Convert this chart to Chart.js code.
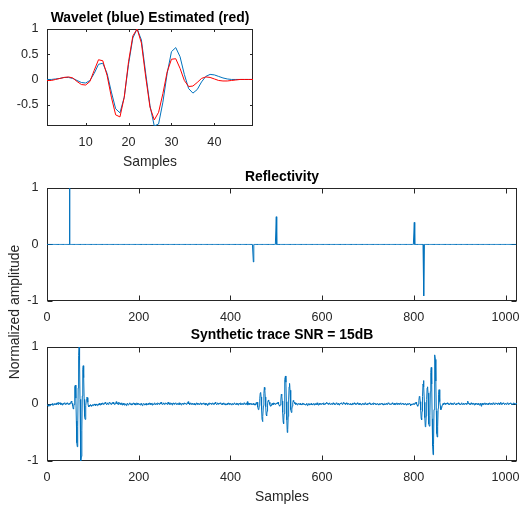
<!DOCTYPE html>
<html>
<head>
<meta charset="utf-8">
<script src="https://cdn.jsdelivr.net/npm/chart.js@4/dist/chart.umd.min.js"></script>
<style>
html,body{margin:0;padding:0;background:#fff;}
#wrap{position:relative;width:531px;height:506px;overflow:hidden;background:#fff;}
#wrap canvas{position:absolute;left:0;top:0;}
#ylab{position:absolute;left:-86px;top:302px;width:200px;height:20px;line-height:20px;text-align:center;
  transform:rotate(-90deg);font-family:'Liberation Sans',Arial,Helvetica,sans-serif;font-size:13.9px;color:#262626;white-space:nowrap;}
</style>
</head>
<body>
<div id="wrap">
  <canvas id="c1" width="531" height="506"></canvas>
  <canvas id="c2" width="531" height="506"></canvas>
  <canvas id="c3" width="531" height="506"></canvas>
  <div id="ylab">Normalized amplitude</div>
</div>
<script>
// ---------------- DATA ----------------
// Wavelet plot: samples 1..49
const waveletTrue = [0,0,0.01,0.02,0.04,0.04,0.02,-0.02,-0.06,-0.07,
  -0.02,0.12,0.30,0.32,0.12,-0.25,-0.58,-0.66,-0.35,0.30,
  0.82,1.0,0.78,0.12,-0.52,-0.92,-0.88,-0.45,0.12,0.55,
  0.63,0.45,0.10,-0.18,-0.27,-0.20,-0.05,0.06,0.10,0.09,
  0.06,0.03,0.01,0,0,0,0,0,0];
const waveletEst = [-0.02,-0.02,0,0.02,0.04,0.05,0.03,-0.04,-0.10,-0.11,
  -0.04,0.18,0.39,0.37,0.08,-0.35,-0.70,-0.74,-0.35,0.35,
  0.86,1.0,0.72,0.05,-0.55,-0.80,-0.65,-0.28,0.15,0.40,
  0.41,0.22,-0.02,-0.14,-0.13,-0.06,0.02,0.05,0.04,0.01,
  -0.02,-0.03,-0.03,-0.02,-0.01,0,0,0,0];

// Reflectivity spikes (sample index, amplitude); all other samples are 0
const reflPos = [49, 450, 500, 801, 822];
const reflAmp = [1.0, -0.31, 0.49, 0.39, -0.91];
const nSamples = 1025; // samples 0..1024

// Synthetic trace, in hundredths, samples 0..1024
const traceCenti = [
-2,-3,-1,-2,-4,-2,-1,-3,-2,0,-1,-2,1,-1,-2,0,-1,1,-1,0,
1,-1,2,0,-1,1,3,1,0,2,-1,1,0,-2,0,1,-1,0,2,1,
0,-1,1,0,2,1,-1,0,1,-1,0,2,1,5,3,1,-3,-8,-9,-1,
13,31,33,10,-30,-68,-75,-40,28,85,100,76,8,-60,-100,-92,-46,14,60,67,
46,8,-22,-27,-17,-3,8,12,11,3,-3,-5,-2,-4,-3,-1,-3,-2,-4,-2,
-1,-3,-2,0,-2,-1,-3,0,-1,-2,-3,-1,0,-2,1,-1,-2,0,1,-1,
0,2,1,-1,1,0,2,3,1,0,-1,1,2,0,-1,1,3,2,0,1,
-1,0,2,1,3,1,0,-1,1,0,2,4,1,0,2,-1,1,3,0,2,
1,-1,0,2,-2,0,1,-1,-2,0,1,-1,0,-3,-1,1,0,-2,-1,0,
2,0,-1,1,0,-2,-1,1,0,2,1,-1,0,1,-2,0,2,1,-1,0,
1,-1,0,-2,-1,1,0,-1,-3,-1,0,1,-1,-2,0,-1,1,0,-2,-1,
0,1,-1,0,2,1,-1,0,1,-2,0,1,0,-1,1,2,0,-1,0,1,
-1,0,2,1,0,-1,1,2,0,3,1,-1,0,1,2,0,-1,1,0,2,
1,0,-1,1,3,2,0,1,-1,0,2,1,0,-2,1,0,2,1,-1,0,
1,2,0,-1,0,1,-1,0,2,0,-1,1,0,-2,-1,1,0,-1,1,0,
2,1,0,1,-1,0,2,1,4,0,1,-1,0,1,2,0,-1,1,0,-1,
0,1,-1,0,-2,1,0,2,1,-1,0,1,0,-1,1,2,0,1,-1,0,
1,0,2,-1,0,1,-2,0,1,-1,-3,0,1,-1,0,2,1,0,-1,1,
0,1,2,0,-1,1,0,3,1,0,-1,0,2,1,-1,0,1,0,2,1,
-1,0,1,-1,0,2,0,-1,1,0,-2,-1,0,1,-1,0,2,1,0,-1,
0,1,-1,-2,0,1,0,-1,1,2,0,-1,0,1,-1,0,1,-2,0,1,
0,-1,1,2,0,-1,0,1,-1,0,2,1,-1,0,1,-1,0,4,-2,1,
0,1,-1,0,1,-1,0,1,-1,0,1,-1,0,-2,0,-2,2,1,3,0,
-5,-10,-9,-3,9,19,20,12,-10,-27,-31,-22,-3,18,29,25,12,-5,-19,-21,
-13,-2,6,7,5,3,-1,-4,-2,-3,0,1,-1,0,2,-1,1,0,-1,0,
1,0,2,1,3,0,-2,-4,-3,-2,7,17,15,5,-15,-31,-35,-17,14,43,
49,38,4,-28,-50,-45,-22,7,30,36,24,4,-10,-15,-9,-4,2,6,4,3,
1,2,0,-1,1,0,-2,-1,0,1,-1,0,1,-1,0,-2,0,1,-1,0,
1,-1,0,-2,-1,0,1,-1,-3,0,-1,1,0,-2,-1,0,1,-1,0,-2,
-1,0,1,-2,0,-1,1,0,-1,2,0,-1,-2,0,1,-1,0,1,-1,0,
1,0,-1,2,1,0,-1,1,0,2,3,1,0,-1,1,0,2,1,-1,0,
0,1,-1,0,2,0,-1,1,0,-1,0,2,1,0,-1,1,0,-2,0,1,
1,0,2,1,-1,0,1,3,1,0,-1,1,0,2,0,-1,1,0,1,-1,
0,-1,1,0,-2,0,1,-1,0,1,2,0,-1,1,0,-1,1,2,0,-1,
0,1,-1,0,1,-1,-2,0,1,0,-1,1,0,-1,2,1,0,-1,0,1,
-1,0,1,2,0,-1,1,0,-1,0,1,-1,0,2,1,0,-1,1,0,-1,
0,1,0,-1,-2,0,1,-1,0,1,0,-1,1,0,-2,-1,0,1,0,-1,
1,0,-1,0,2,1,0,-1,1,0,-1,0,1,2,0,-1,0,1,-1,0,
1,-1,0,2,0,-1,1,0,-1,1,0,2,1,-1,0,1,0,-1,1,0,
-1,0,1,-1,0,-2,0,1,-1,0,1,0,-1,-3,0,-2,-1,0,-1,0,
1,-1,0,2,1,3,0,-2,-3,-4,0,6,13,12,4,-11,-25,-28,-13,13,
35,41,30,3,-24,-40,-38,-21,8,28,30,19,-8,-35,-39,-20,22,55,64,35,
-26,-74,-89,-71,-10,48,86,78,40,-12,-52,-58,-40,-8,17,25,17,4,-4,-10,
-7,-6,-2,0,1,-1,0,2,1,0,-1,1,0,2,0,-1,1,0,-1,1,
0,2,1,-1,0,1,-1,0,2,1,0,-1,0,1,-1,0,1,2,0,-1,
1,0,-1,0,2,1,0,-1,1,0,-1,0,1,0,-1,1,0,2,5,1,
0,-1,1,0,-1,2,0,1,-1,0,1,0,-2,0,1,-1,0,1,0,-1,
1,0,-1,-2,0,1,-1,-4,0,1,-1,0,1,-1,0,2,0,-1,1,0,
-1,0,1,-1,0,1,2,0,-1,1,0,-1,0,2,1,-1,0,1,0,2,
1,0,-1,1,0,2,1,-1,0,1,3,0,-1,1,0,2,1,0,-1,1,
0,1,-1,0,2,1,0,-1,1,0,1,2,0,-1,1,0,-1,1,2,0,
1,0,-1,1,0
];

// Axis ticks
const waveletXTicks = [10, 20, 30, 40];
const waveletYTicks = [-0.5, 0, 0.5, 1];
const longXTicks = [0, 200, 400, 600, 800, 1000];
const longYTicks = [-1, 0, 1];

// ---------------- STYLE ----------------
const FONT = "'Liberation Sans', Arial, Helvetica, sans-serif";
const AX = '#262626';
const BLUE = '#0072BD';
const RED = '#FF0000';

// ---------------- BUILD ----------------
const wavX = waveletTrue.map((_, i) => i + 1);
const reflData = [];
for (let n = 0; n < nSamples; n++) {
  const k = reflPos.indexOf(n);
  reflData.push({x: n, y: k >= 0 ? reflAmp[k] : 0});
}
const traceData = traceCenti.map((v, n) => ({x: n, y: v / 100}));

const boxPlugin = {
  id: 'matlabBox',
  beforeDatasetsDraw(chart, args, opts) {
    const {ctx, chartArea: a} = chart;
    const x = chart.scales.x, y = chart.scales.y;
    const L = opts.tickLen || 4;
    const l = Math.round(a.left) + 0.5, r = Math.round(a.right) - 0.5;
    const t = Math.round(a.top) + 0.5, b = Math.round(a.bottom) - 0.5;
    ctx.save();
    ctx.strokeStyle = AX;
    ctx.lineWidth = 1;
    ctx.beginPath();
    for (const tk of x.ticks) {
      const px = Math.round(x.getPixelForValue(tk.value)) + 0.5;
      ctx.moveTo(px, b); ctx.lineTo(px, b - L);
      ctx.moveTo(px, t); ctx.lineTo(px, t + L);
    }
    for (const tk of y.ticks) {
      const py = Math.round(y.getPixelForValue(tk.value)) + 0.5;
      ctx.moveTo(l, py); ctx.lineTo(l + L, py);
      ctx.moveTo(r, py); ctx.lineTo(r - L, py);
    }
    ctx.stroke();
    ctx.strokeRect(l, t, r - l, b - t);
    ctx.restore();
  }
};

function xScale(min, max, tickVals, height, titleText) {
  return {
    type: 'linear', min: min, max: max,
    afterBuildTicks: s => { s.ticks = tickVals.map(v => ({value: v})); },
    afterFit: s => { s.height = height; },
    grid: {display: false, drawTicks: false, tickLength: 0},
    border: {display: false},
    ticks: {autoSkip: false, maxRotation: 0, minRotation: 0, padding: 9, color: AX,
      font: {family: FONT, size: 12.6}, callback: v => String(v)},
    title: titleText ? {display: true, text: titleText, color: AX,
      font: {family: FONT, size: 13.9, lineHeight: 1.2}, padding: {top: 0, bottom: 0}} : {display: false}
  };
}
function yScale(min, max, tickVals) {
  return {
    type: 'linear', min: min, max: max,
    afterBuildTicks: s => { s.ticks = tickVals.map(v => ({value: v})); },
    afterFit: s => { s.width = 40; },
    grid: {display: false, drawTicks: false, tickLength: 0},
    border: {display: false},
    ticks: {autoSkip: false, padding: 8.5, color: AX,
      font: {family: FONT, size: 12.6}, callback: v => String(v)}
  };
}
function titleOpts(text, padBottom) {
  return {display: true, text: text, color: '#000', fullSize: false,
    font: {family: FONT, size: 13.9, weight: 'bold', lineHeight: 1.2},
    padding: {top: 0, bottom: padBottom}};
}
const lineDs = (label, data, color, order) => ({
  label: label, data: data, borderColor: color, backgroundColor: color,
  borderWidth: 1, pointRadius: 0, tension: 0, fill: false,
  borderJoinStyle: 'round', order: order
});

Chart.defaults.animation = false;

new Chart(document.getElementById('c1'), {
  type: 'line',
  data: {datasets: [
    lineDs('Estimated', wavX.map((x, i) => ({x: x, y: waveletEst[i]})), RED, 0),
    lineDs('Wavelet', wavX.map((x, i) => ({x: x, y: waveletTrue[i]})), BLUE, 1)
  ]},
  options: {
    responsive: false, animation: false, events: [],
    layout: {padding: {left: 7, right: 278, top: 9.5, bottom: 335}},
    scales: {
      x: xScale(1, 49, waveletXTicks, 45, 'Samples'),
      y: yScale(-0.92, 1, waveletYTicks)
    },
    plugins: {legend: {display: false}, tooltip: {enabled: false},
      title: titleOpts('Wavelet (blue) Estimated (red)', 2.7),
      matlabBox: {tickLen: 2.5}}
  },
  plugins: [boxPlugin]
});

new Chart(document.getElementById('c2'), {
  type: 'line',
  data: {datasets: [lineDs('Reflectivity', reflData, BLUE, 0)]},
  options: {
    responsive: false, animation: false, events: [],
    layout: {padding: {left: 7, right: 14, top: 168.5, bottom: 180}},
    scales: {
      x: xScale(0, 1025, longXTicks, 25, null),
      y: yScale(-1, 1, longYTicks)
    },
    plugins: {legend: {display: false}, tooltip: {enabled: false},
      title: titleOpts('Reflectivity', 2.7),
      matlabBox: {tickLen: 5}}
  },
  plugins: [boxPlugin]
});

new Chart(document.getElementById('c3'), {
  type: 'line',
  data: {datasets: [lineDs('Trace', traceData, BLUE, 0)]},
  options: {
    responsive: false, animation: false, events: [],
    layout: {padding: {left: 7, right: 14, top: 326.8, bottom: 0}},
    scales: {
      x: xScale(0, 1025, longXTicks, 45, 'Samples'),
      y: yScale(-1, 1, longYTicks)
    },
    plugins: {legend: {display: false}, tooltip: {enabled: false},
      title: titleOpts('Synthetic trace SNR = 15dB', 3.4),
      matlabBox: {tickLen: 5}}
  },
  plugins: [boxPlugin]
});
</script>
</body>
</html>
